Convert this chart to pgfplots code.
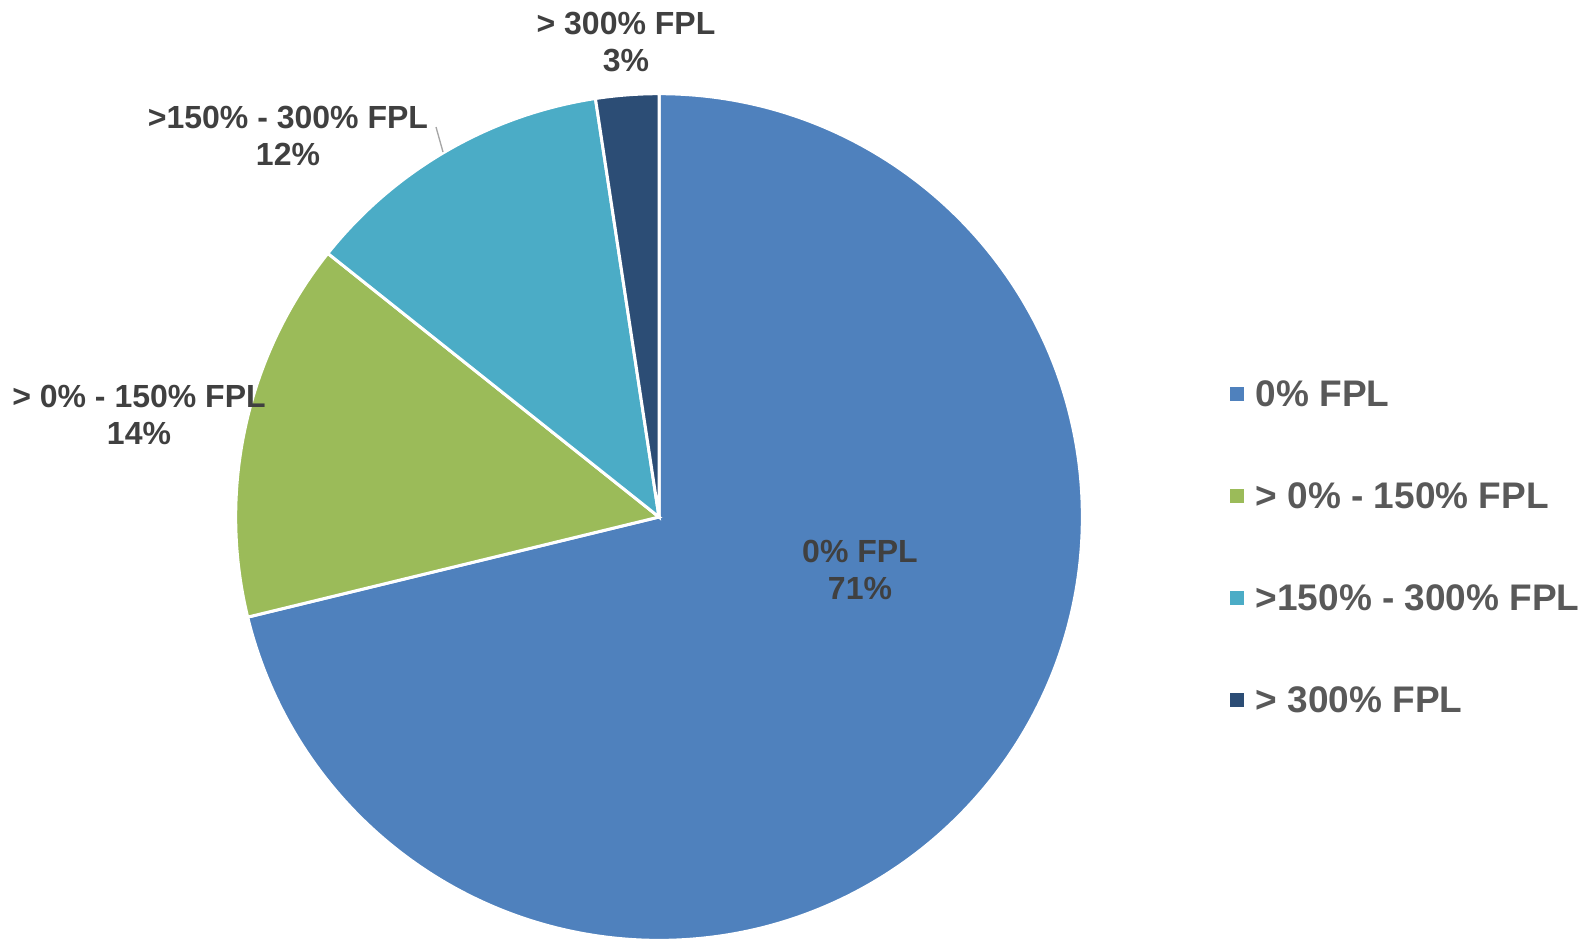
\documentclass[border=0pt]{standalone}
\usepackage{fontspec}
\setmainfont{Liberation Sans}
\usepackage{pgfplots}
\pgfplotsset{compat=1.18}
\definecolor{cA}{HTML}{4F81BD}
\definecolor{cB}{HTML}{9BBB59}
\definecolor{cC}{HTML}{4BACC6}
\definecolor{cD}{HTML}{2C4D75}
\definecolor{lab}{HTML}{404040}
\definecolor{leg}{HTML}{595959}
% data (percent)
\def\vA{71.2}
\def\vB{14.5}
\def\vC{11.9}
\def\vD{2.4}
\def\R{127.0pt}
\begin{document}
\begin{tikzpicture}
\begin{axis}[width=476.1pt,height=282.3pt,scale only axis,
  xmin=0,xmax=1587,ymin=0,ymax=941,y dir=reverse,
  axis lines=none,clip=false]
\path (axis cs:0,0) (axis cs:1587,941);
\pgfmathsetmacro{\aA}{90-3.6*\vA}
\pgfmathsetmacro{\aB}{\aA-3.6*\vB}
\pgfmathsetmacro{\aC}{\aB-3.6*\vC}
\pgfmathsetmacro{\aD}{\aC-3.6*\vD}
\filldraw[fill=cA,draw=white,line width=0.9pt] (axis cs:659,517) -- ++(90:\R) arc[start angle=90,end angle=\aA,radius=\R] -- cycle;
\filldraw[fill=cB,draw=white,line width=0.9pt] (axis cs:659,517) -- ++(\aA:\R) arc[start angle=\aA,end angle=\aB,radius=\R] -- cycle;
\filldraw[fill=cC,draw=white,line width=0.9pt] (axis cs:659,517) -- ++(\aB:\R) arc[start angle=\aB,end angle=\aC,radius=\R] -- cycle;
\filldraw[fill=cD,draw=white,line width=0.9pt] (axis cs:659,517) -- ++(\aC:\R) arc[start angle=\aC,end angle=\aD,radius=\R] -- cycle;
% data labels
\tikzset{dl/.style={font=\bfseries\fontsize{9.6}{11.1}\selectfont,text=lab,align=center,inner sep=0pt}}
\node[dl] at (axis cs:860,570) {0\% FPL\\71\%};
\node[dl] at (axis cs:139,415) {> 0\% - 150\% FPL\\14\%};
\node[dl] at (axis cs:288,136) {>150\% - 300\% FPL\\12\%};
\node[dl] at (axis cs:626,42) {> 300\% FPL\\3\%};
\draw[gray!70,line width=0.4pt] (axis cs:436,127) -- (axis cs:443,152);
% legend
\tikzset{lg/.style={font=\bfseries\fontsize{11.1}{13}\selectfont,text=leg,anchor=west,inner sep=0pt}}
\fill[cA] (axis cs:1230,387) rectangle (axis cs:1244,401);
\node[lg] at (axis cs:1255,394) {0\% FPL};
\fill[cB] (axis cs:1230,489) rectangle (axis cs:1244,503);
\node[lg] at (axis cs:1255,496) {> 0\% - 150\% FPL};
\fill[cC] (axis cs:1230,591) rectangle (axis cs:1244,605);
\node[lg] at (axis cs:1255,598) {>150\% - 300\% FPL};
\fill[cD] (axis cs:1230,693) rectangle (axis cs:1244,707);
\node[lg] at (axis cs:1255,700) {> 300\% FPL};
\end{axis}
\end{tikzpicture}
\end{document}
